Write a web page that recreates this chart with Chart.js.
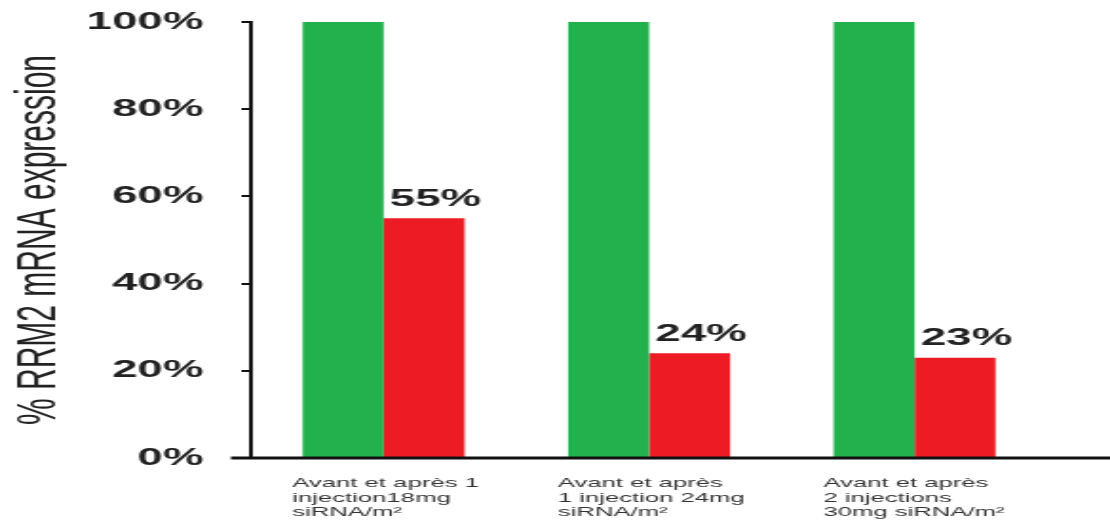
<!DOCTYPE html>
<html>
<head>
<meta charset="utf-8">
<script src="https://cdn.jsdelivr.net/npm/chart.js@4"></script>
<style>
  html, body { margin: 0; padding: 0; background: #fff; overflow: hidden; }
  /* the reference is stretched sideways, so the chart is drawn narrow and widened */
  #wrap { width: 584px; height: 530px; transform: scaleX(1.9007); transform-origin: 0 0; }
</style>
</head>
<body>
<div id="wrap"><canvas id="chart"></canvas></div>
<script>
var categories = [
    ['Avant et après 1', 'injection18mg', 'siRNA/m²'],
    ['Avant et après', '1 injection 24mg', 'siRNA/m²'],
    ['Avant et après', '2 injections', '30mg siRNA/m²']
];
var avant = [100, 100, 100];
var apres = [55, 24, 23];

// percent labels over the red bars
var barLabels = {
    id: 'barLabels',
    afterDatasetsDraw: function(chart) {
        var ctx = chart.ctx;
        var meta = chart.getDatasetMeta(1);
        ctx.save();
        ctx.fillStyle = '#222';
        ctx.font = 'bold 24px "Liberation Sans", Arial, sans-serif';
        ctx.textAlign = 'center';
        ctx.textBaseline = 'bottom';
        meta.data.forEach(function(bar, i) {
            ctx.fillText(apres[i] + '%', bar.x + 6, bar.y - 7);
        });
        ctx.restore();
    }
};

// the base line runs past both ends of the plot
var baseLine = {
    id: 'baseLine',
    afterDraw: function(chart) {
        var ctx = chart.ctx;
        var y = chart.scales.y.getPixelForValue(0);
        ctx.save();
        ctx.strokeStyle = '#111';
        ctx.lineWidth = 3;
        ctx.beginPath();
        ctx.moveTo(chart.chartArea.left - 10.5, y);
        ctx.lineTo(chart.width, y);
        ctx.stroke();
        ctx.restore();
    }
};

var chart = new Chart(document.getElementById('chart'), {
    type: 'bar',
    data: {
        labels: categories,
        datasets: [{
            label: 'Avant',
            data: avant,
            backgroundColor: '#22b14c'
        }, {
            label: 'Après',
            data: apres,
            backgroundColor: '#ed1c24'
        }]
    },
    options: {
        responsive: true,
        maintainAspectRatio: false,
        animation: false,
        layout: { padding: { top: 22, right: 33, bottom: 0, left: 0 } },
        datasets: { bar: { categoryPercentage: 0.61, barPercentage: 1.0 } },
        plugins: {
            legend: { display: false },
            tooltip: { enabled: false }
        },
        scales: {
            x: {
                grid: { display: false, drawTicks: false },
                border: { display: false },
                ticks: {
                    align: 'start',
                    padding: 18,
                    labelOffset: -48,
                    maxRotation: 0,
                    autoSkip: false,
                    color: '#333',
                    font: { family: '"Liberation Sans", Arial, sans-serif', size: 13.5, lineHeight: 1.08 }
                },
                afterFit: function(scale) {
                    scale.height = 72;
                    scale.paddingLeft = 0;
                    scale.paddingRight = 0;
                }
            },
            y: {
                min: 0,
                max: 100,
                ticks: {
                    stepSize: 20,
                    padding: 20,
                    color: '#222',
                    font: { family: '"Liberation Sans", Arial, sans-serif', size: 24, weight: 'bold' },
                    callback: function(v) { return v + '%'; }
                },
                grid: { drawOnChartArea: false, drawTicks: true, tickLength: 5, color: '#111', lineWidth: 2 },
                border: { display: true, color: '#111', width: 2 },
                title: {
                    display: true,
                    text: '% RRM2 mRNA expression',
                    color: '#222',
                    padding: 3,
                    font: { family: '"Liberation Sans", Arial, sans-serif', size: 30 }
                },
                afterFit: function(scale) {
                    scale.width = 132;
                    scale.paddingTop = 0;
                    scale.paddingBottom = 0;
                }
            }
        }
    },
    plugins: [barLabels, baseLine]
});
</script>
</body>
</html>
